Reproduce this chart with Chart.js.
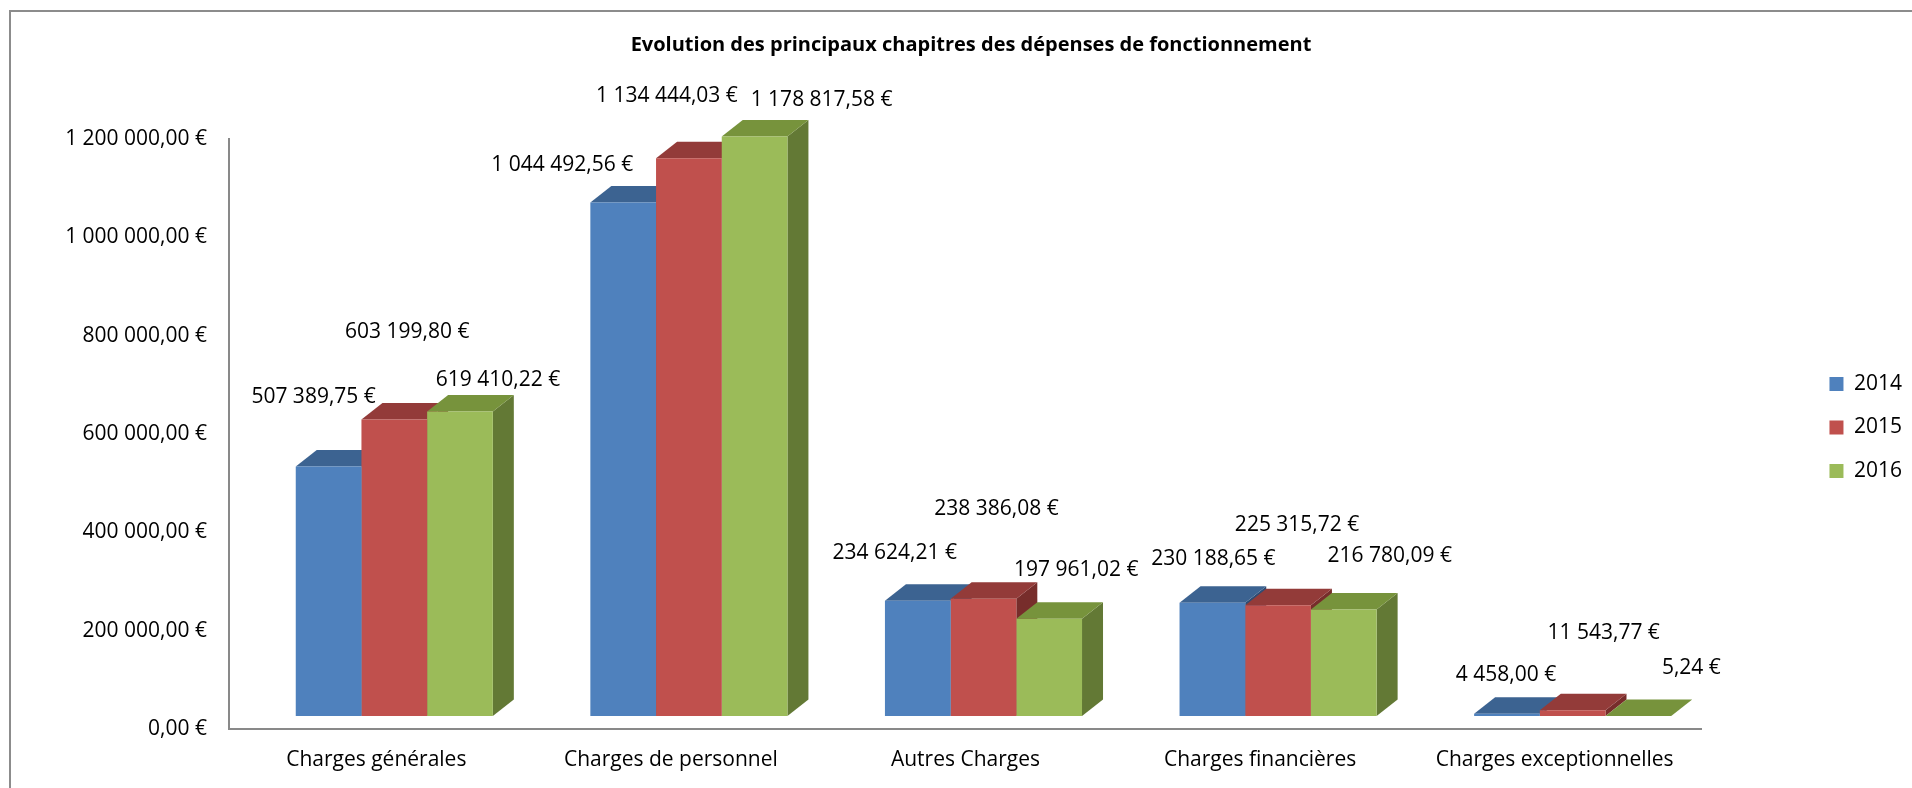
<!DOCTYPE html>
<html><head><meta charset="utf-8">
<script src="https://cdn.jsdelivr.net/npm/chart.js@4.4.1/dist/chart.umd.min.js"></script>
<style>html,body{margin:0;padding:0;background:#fff;overflow:hidden}canvas{display:block}</style>
</head><body>
<canvas id="c" width="1912" height="788"></canvas>
<script>
// ---- data ----
const categories = ['Charges générales', 'Charges de personnel', 'Autres Charges', 'Charges financières', 'Charges exceptionnelles'];
const seriesNames = ['2014', '2015', '2016'];
const values2014 = [507389.75, 1044492.56, 234624.21, 230188.65, 4458.00];
const values2015 = [603199.80, 1134444.03, 238386.08, 225315.72, 11543.77];
const values2016 = [619410.22, 1178817.58, 197961.02, 216780.09, 5.24];
const yTickValues = [0, 200000, 400000, 600000, 800000, 1000000, 1200000];
const chartTitle = 'Evolution des principaux chapitres des dépenses de fonctionnement';

// ---- styles ----
const frontColors = ['#4F81BD', '#C0504D', '#9BBB59'];
const topColors = ['#3C6391', '#933B39', '#77933C'];
const sideColors = ['#2F4C73', '#772D2B', '#637935'];
const FONT = '"Open Sans", "Noto Sans", sans-serif';
const SHIFT = {x: 18, y: -13};   // bars sit in the middle of the 3D depth
const DEPTH = {x: 21, y: -16.5}; // depth of the prism
// data label nudges (px) from the front-top centre of each bar, per series
const labelNudge = [
  [[-15, -70], [-61, -37], [-23, -48], [1, -44], [-1, -39]],
  [[13, -87], [-22, -62], [13, -90], [19, -80], [31, -77]],
  [[38, -31], [67, -36], [27, -49], [46, -53], [53, -48]]
];

function euro(v) {
  const s = Math.abs(v).toFixed(2);
  let [i, d] = s.split('.');
  i = i.replace(/\B(?=(\d{3})+(?!\d))/g, ' ');
  return i + ',' + d + ' €';
}

const framePlugin = {
  id: 'frame',
  beforeDraw(chart) {
    const ctx = chart.ctx;
    ctx.save();
    ctx.fillStyle = '#fff';
    ctx.fillRect(0, 0, chart.width, chart.height);
    ctx.strokeStyle = '#8c8c8c';
    ctx.lineWidth = 2;
    ctx.strokeRect(10, 11, chart.width * 2, chart.height * 2);
    ctx.restore();
  }
};

const depthPlugin = {
  id: 'depth3d',
  beforeDatasetsDraw(chart) {
    const ctx = chart.ctx;
    ctx.save();
    ctx.translate(SHIFT.x, SHIFT.y);
    chart.data.datasets.forEach((ds, di) => {
      chart.getDatasetMeta(di).data.forEach(bar => {
        const p = bar.getProps(['x', 'y', 'base', 'width'], true);
        const l = p.x - p.width / 2, r = p.x + p.width / 2, t = p.y, b = p.base;
        ctx.fillStyle = sideColors[di];
        ctx.beginPath();
        ctx.moveTo(r, t); ctx.lineTo(r + DEPTH.x, t + DEPTH.y);
        ctx.lineTo(r + DEPTH.x, b + DEPTH.y); ctx.lineTo(r, b);
        ctx.closePath(); ctx.fill();
        ctx.fillStyle = topColors[di];
        ctx.beginPath();
        ctx.moveTo(l, t); ctx.lineTo(l + DEPTH.x, t + DEPTH.y);
        ctx.lineTo(r + DEPTH.x, t + DEPTH.y); ctx.lineTo(r, t);
        ctx.closePath(); ctx.fill();
      });
    });
    ctx.restore();
  },
  beforeDatasetDraw(chart) {
    chart.ctx.save();
    chart.ctx.translate(SHIFT.x, SHIFT.y);
  },
  afterDatasetDraw(chart) {
    chart.ctx.restore();
  },
  afterDatasetsDraw(chart) {
    const ctx = chart.ctx;
    ctx.save();
    ctx.font = '21px ' + FONT;
    ctx.fillStyle = '#000';
    ctx.textAlign = 'center';
    ctx.textBaseline = 'middle';
    chart.data.datasets.forEach((ds, di) => {
      chart.getDatasetMeta(di).data.forEach((bar, i) => {
        const p = bar.getProps(['x', 'y'], true);
        const n = labelNudge[di][i];
        ctx.fillText(euro(ds.data[i]), p.x + SHIFT.x + n[0], p.y + SHIFT.y + n[1]);
      });
    });
    ctx.restore();
  }
};

function build() {
  const seriesValues = [values2014, values2015, values2016];
  new Chart(document.getElementById('c'), {
    type: 'bar',
    data: {
      labels: categories,
      datasets: seriesNames.map((name, i) => ({
        label: name,
        data: seriesValues[i],
        backgroundColor: frontColors[i],
        borderWidth: 0,
        categoryPercentage: 0.669,
        barPercentage: 1.0,
        clip: false
      }))
    },
    options: {
      responsive: false,
      animation: false,
      devicePixelRatio: 1,
      events: [],
      layout: {padding: {left: 30, right: 0, top: 33.6, bottom: 0}},
      plugins: {
        title: {
          display: true,
          text: chartTitle,
          color: '#000',
          font: {family: FONT, size: 20, weight: 'bold'},
          padding: {top: 0, bottom: 9.4}
        },
        legend: {
          display: true,
          position: 'right',
          fullSize: true,
          title: {display: true, text: ' ', font: {family: FONT, size: 10}, padding: {top: 21.4, bottom: 0}},
          labels: {
            color: '#000',
            font: {family: FONT, size: 21},
            boxWidth: 14,
            boxHeight: 14,
            padding: 22.5
          }
        },
        tooltip: {enabled: false}
      },
      scales: {
        x: {
          type: 'category',
          offset: true,
          grid: {display: false, drawTicks: false},
          border: {display: true, color: '#898989', width: 2},
          ticks: {color: '#000', font: {family: FONT, size: 21}, padding: 18.4, maxRotation: 0, autoSkip: false},
          afterFit: s => { s.height = 59; }
        },
        x2: {
          type: 'category',
          position: 'top',
          display: true,
          grid: {display: false, drawTicks: false},
          border: {display: false},
          ticks: {display: false},
          afterFit: s => { s.height = 72; }
        },
        y: {
          type: 'linear',
          min: 0,
          max: 1200000,
          grid: {display: false, drawTicks: false},
          border: {display: true, color: '#898989', width: 2},
          ticks: {color: '#000', font: {family: FONT, size: 21}, padding: 22, callback: v => euro(v)},
          afterBuildTicks: s => { s.ticks = yTickValues.map(v => ({value: v})); },
          afterFit: s => { s.width = 199; }
        },
        y2: {
          type: 'linear',
          position: 'right',
          display: true,
          grid: {display: false, drawTicks: false},
          border: {display: false},
          ticks: {display: false},
          afterFit: s => { s.width = 105; }
        }
      }
    },
    plugins: [framePlugin, depthPlugin]
  });
}

Promise.all([
  document.fonts.load('21px "Open Sans"'),
  document.fonts.load('bold 20px "Open Sans"')
]).catch(() => {}).then(build);
</script>
</body></html>
